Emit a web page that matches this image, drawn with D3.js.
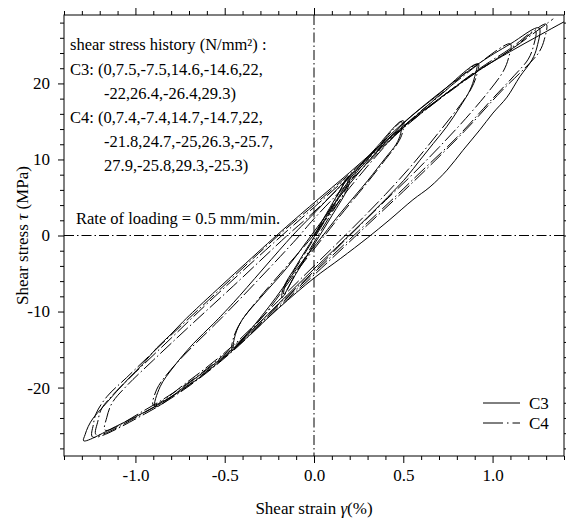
<!DOCTYPE html>
<html>
<head>
<meta charset="utf-8">
<script src="https://cdn.jsdelivr.net/npm/d3@7"></script>
<style>
  body { margin: 0; background: #fff; }
  svg text { font-family: "Liberation Serif", "Times New Roman", serif; fill: #000; }
</style>
</head>
<body>
<svg id="chart"></svg>
<script>
const W = 566, H = 522;

// strain (%) / stress (MPa) pairs, full loading history in order
const c3Path = [
  [0,0],[0.1,4.1],[0.2,7.8],
  [0.19,6.3],[0.1,2.6],[0,-1.2],[-0.1,-5],[-0.18,-8.2],
  [-0.17,-6.8],[-0.1,-4],[0,-0.2],[0.1,3.6],[0.2,7.4],[0.35,11.6],[0.49,15.0],
  [0.485,13.4],[0.46,12],[0.4,10.2],[0.3,7.2],[0.15,3],[0.05,0],[-0.1,-4.5],[-0.25,-9.3],[-0.36,-12.5],[-0.45,-14.8],
  [-0.44,-13.0],[-0.4,-11],[-0.3,-8.2],[-0.15,-4.2],[0,0.5],[0.2,6.8],[0.49,14.5],[0.7,18.6],[0.91,22.5],
  [0.90,20.9],[0.873,19.1],[0.817,16.9],[0.743,14.3],[0.668,12.1],[0.593,9.9],[0.519,7.7],[0.444,5.8],[0.3,2.4],[0.2,0.1],[0,-4.4],[-0.2,-9.0],[-0.45,-14.8],[-0.7,-19.4],[-0.89,-22.5],
  [-0.862,-19.9],[-0.787,-17.3],[-0.675,-14.2],[-0.563,-11.6],[-0.45,-8.8],[-0.12,0],[0,2.9],[0.2,7.8],[0.49,14.6],[0.91,22.4],[1.1,25.2],[1.26,27.3],
  [1.249,24.8],[1.221,23.1],[1.153,20.9],[1.081,18.2],[1.002,16.1],[0.929,13.9],[0.834,11.2],[0.745,8.6],[0.65,6.4],[0.554,4.7],[0.42,2.0],[0.3,-0.3],[0.15,-3.0],[0,-5.6],[-0.2,-9.6],[-0.45,-15.0],[-0.7,-19.7],[-0.9,-22.6],[-1.1,-25.0],[-1.29,-27],
  [-1.282,-26.2],[-1.264,-25.1],[-1.236,-24],[-1.18,-22.5],[-1.105,-20.5],[-1.03,-18.6],[-0.955,-16.8],[-0.881,-14.8],[-0.806,-13.1],[-0.732,-11.3],[-0.657,-9.6],[-0.21,0],[0,4.3],[0.2,8.3],[0.49,14.2],[0.91,21.5],[1.1,24.2],[1.26,26.3],[1.4,28.1],[1.5,29.3]
];

const c4Path = [
  [0,0],[0.1,3.9],[0.19,7.6],
  [0.18,6.2],[0.1,3.0],[0,-0.9],[-0.1,-4.9],[-0.17,-7.8],
  [-0.16,-6.5],[-0.1,-4.2],[0,-0.4],[0.1,3.4],[0.2,7.1],[0.35,11.4],[0.5,15.1],
  [0.495,13.5],[0.47,12.2],[0.4,10.0],[0.3,7.0],[0.15,2.7],[0.06,0],[-0.1,-4.8],[-0.25,-9.6],[-0.37,-12.9],[-0.46,-15.1],
  [-0.45,-13.4],[-0.41,-11.4],[-0.32,-8.6],[-0.17,-4.5],[0,0.1],[0.2,6.3],[0.5,14.3],[0.72,18.7],[0.92,22.6],
  [0.91,21.0],[0.88,19.3],[0.82,17.2],[0.7,13.6],[0.55,9.3],[0.4,5.4],[0.2,0.6],[0,-4.0],[-0.2,-8.6],[-0.45,-14.4],[-0.7,-19.1],[-0.9,-22.3],
  [-0.88,-20.2],[-0.8,-17.6],[-0.68,-14.6],[-0.55,-11.6],[-0.4,-8.0],[-0.1,-0.5],[0,2.2],[0.2,7.1],[0.5,14.2],[0.8,20.3],[1.1,25.2],
  [1.09,23.4],[1.06,21.6],[0.98,19.0],[0.85,15.4],[0.7,11.6],[0.55,8.0],[0.4,4.6],[0.2,0.0],[0,-4.7],[-0.2,-9.1],[-0.45,-14.6],[-0.7,-19.3],[-0.95,-23.0],[-1.17,-25.6],
  [-1.16,-23.9],[-1.13,-22.0],[-1.05,-19.8],[-0.9,-16.4],[-0.7,-12.0],[-0.45,-6.6],[-0.15,0.0],[0,3.1],[0.2,7.6],[0.5,14.1],[0.9,21.5],[1.1,24.6],[1.24,26.9],
  [1.23,25.0],[1.2,23.2],[1.12,21.0],[1.0,18.0],[0.8,12.9],[0.6,8.4],[0.45,5.0],[0.25,0.6],[0,-4.9],[-0.2,-9.3],[-0.45,-14.9],[-0.7,-19.6],[-0.95,-23.3],[-1.22,-26.2],
  [-1.21,-24.4],[-1.19,-22.8],[-1.12,-20.8],[-1.0,-18.0],[-0.8,-13.5],[-0.6,-9.0],[-0.18,0],[0,3.7],[0.2,7.9],[0.5,14.2],[0.9,21.3],[1.1,24.4],[1.3,27.8],
  [1.29,25.8],[1.26,24.1],[1.18,22.0],[1.05,19.0],[0.85,13.9],[0.65,9.2],[0.5,5.8],[0.3,1.4],[0,-5.2],[-0.2,-9.5],[-0.45,-15.1],[-0.7,-19.8],[-0.95,-23.5],[-1.24,-26.5],
  [-1.235,-24.8],[-1.22,-23.4],[-1.16,-21.2],[-1.05,-18.7],[-0.85,-14.2],[-0.65,-9.8],[-0.2,0],[0,4.0],[0.2,8.1],[0.5,14.3],[0.9,21.4],[1.1,24.4],[1.34,28.5]
];

const xMajorTicks = [-1.0, -0.5, 0.0, 0.5, 1.0];
const xTickLabels = ["-1.0", "-0.5", "0.0", "0.5", "1.0"];
const yMajorTicks = [-20, -10, 0, 10, 20];
const yTickLabels = ["-20", "-10", "0", "10", "20"];
const seriesNames = ["C3", "C4"];
const noteLines = [
  "shear stress history (N/mm\u00B2) :",
  "C3: (0,7.5,-7.5,14.6,-14.6,22,",
  "-22,26.4,-26.4,29.3)",
  "C4: (0,7.4,-7.4,14.7,-14.7,22,",
  "-21.8,24.7,-25,26.3,-25.7,",
  "27.9,-25.8,29.3,-25.3)"
];
const rateNote = "Rate of loading = 0.5 mm/min.";

const pL = 64, pR = 564, pT = 15, pB = 456;
const dashDot = "15,3,1.5,3";

const x = d3.scaleLinear().domain([-1.4, 1.4]).range([pL, pR]);
const y = d3.scaleLinear().domain([-29, 29]).range([pB, pT]);

const svg = d3.select("#chart").attr("width", W).attr("height", H);

svg.append("defs").append("clipPath").attr("id", "plot-clip")
  .append("rect").attr("x", pL).attr("y", pT)
  .attr("width", pR - pL).attr("height", pB - pT);

const xMinor = d3.range(-14, 15).map(d => d / 10).filter(v => Math.abs(v * 2 - Math.round(v * 2)) > 1e-6);
const yMinor = d3.range(-28, 29, 2).filter(v => v % 10 !== 0);

function styleAxis(g) {
  g.select(".domain").remove();
  g.selectAll(".tick line").attr("stroke", "#000").attr("stroke-width", 1);
  g.selectAll(".tick text").style("font-size", "17px").attr("fill", "#000");
}

// bottom
svg.append("g").attr("transform", `translate(0,${pB})`)
  .call(d3.axisBottom(x).tickValues(xMinor).tickSize(4).tickFormat("")).call(styleAxis);
svg.append("g").attr("transform", `translate(0,${pB})`)
  .call(d3.axisBottom(x).tickValues(xMajorTicks).tickSize(7).tickPadding(6)
    .tickFormat((d, i) => xTickLabels[i])).call(styleAxis);
// top
svg.append("g").attr("transform", `translate(0,${pT})`)
  .call(d3.axisTop(x).tickValues(xMinor).tickSize(4).tickFormat("")).call(styleAxis);
svg.append("g").attr("transform", `translate(0,${pT})`)
  .call(d3.axisTop(x).tickValues(xMajorTicks).tickSize(7).tickFormat("")).call(styleAxis);
// left
svg.append("g").attr("transform", `translate(${pL},0)`)
  .call(d3.axisLeft(y).tickValues(yMinor).tickSize(4).tickFormat("")).call(styleAxis);
svg.append("g").attr("transform", `translate(${pL},0)`)
  .call(d3.axisLeft(y).tickValues(yMajorTicks).tickSize(6).tickPadding(8)
    .tickFormat((d, i) => yTickLabels[i])).call(styleAxis);
// right
svg.append("g").attr("transform", `translate(${pR},0)`)
  .call(d3.axisRight(y).tickValues(yMinor).tickSize(4).tickFormat("")).call(styleAxis);
svg.append("g").attr("transform", `translate(${pR},0)`)
  .call(d3.axisRight(y).tickValues(yMajorTicks).tickSize(6).tickFormat("")).call(styleAxis);

// frame
svg.append("rect").attr("x", pL).attr("y", pT)
  .attr("width", pR - pL).attr("height", pB - pT)
  .attr("fill", "none").attr("stroke", "#000").attr("stroke-width", 1);

// zero lines
svg.append("line").attr("x1", pL).attr("x2", pR).attr("y1", y(0)).attr("y2", y(0))
  .attr("stroke", "#000").attr("stroke-width", 1).attr("stroke-dasharray", "10,3,1.5,3");
svg.append("line").attr("x1", x(0)).attr("x2", x(0)).attr("y1", pT).attr("y2", pB)
  .attr("stroke", "#000").attr("stroke-width", 1).attr("stroke-dasharray", "10,3,1.5,3");

const line = d3.line().x(d => x(d[0])).y(d => y(d[1])).curve(d3.curveCatmullRom.alpha(0.5));

const plot = svg.append("g").attr("clip-path", "url(#plot-clip)");
plot.append("path").datum(c4Path).attr("d", line)
  .attr("fill", "none").attr("stroke", "#000").attr("stroke-width", 1)
  .attr("stroke-dasharray", dashDot);
plot.append("path").datum(c3Path).attr("d", line)
  .attr("fill", "none").attr("stroke", "#000").attr("stroke-width", 1);

// notes
const noteX = [70, 70, 104, 70, 104, 104];
const noteY = [50, 75, 99, 123, 147, 171];
noteLines.forEach((t, i) => {
  svg.append("text").attr("x", noteX[i]).attr("y", noteY[i]).style("font-size", "16.5px").text(t);
});
svg.append("text").attr("x", 76).attr("y", 224).style("font-size", "16.5px").text(rateNote);

// legend
const legendY = [403, 423];
const dashes = [null, "20,4,1.5,4"];
seriesNames.forEach((n, i) => {
  svg.append("line").attr("x1", 483).attr("x2", 520).attr("y1", legendY[i]).attr("y2", legendY[i])
    .attr("stroke", "#000").attr("stroke-width", 1).attr("stroke-dasharray", dashes[i]);
  svg.append("text").attr("x", 529).attr("y", legendY[i] + 6).style("font-size", "17px").text(n);
});

// axis titles
const xt = svg.append("text").attr("x", x(0)).attr("y", 514).attr("text-anchor", "middle").style("font-size", "17px");
xt.append("tspan").text("Shear strain ");
xt.append("tspan").style("font-style", "italic").text("\u03B3");
xt.append("tspan").text("(%)");

const yt = svg.append("text").attr("transform", `translate(28,${y(0)}) rotate(-90)`)
  .attr("text-anchor", "middle").style("font-size", "17px");
yt.append("tspan").text("Shear stress ");
yt.append("tspan").style("font-style", "italic").text("\u03C4");
yt.append("tspan").text(" (MPa)");
</script>
</body>
</html>
